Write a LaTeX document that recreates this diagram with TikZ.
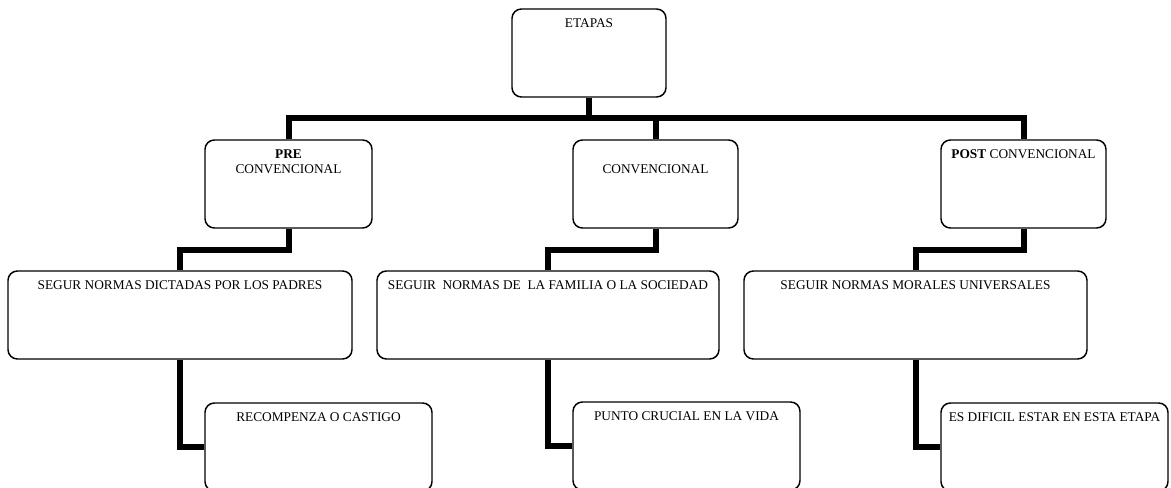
\documentclass[tikz,border=0pt]{standalone}
\usepackage{fontspec}
\setmainfont{Liberation Serif}
\usepackage{tikz}
\usetikzlibrary{positioning}
\newlength{\unidad}
\setlength{\unidad}{0.75pt}
\newcommand{\etiqueta}[3]{\parbox[b][#2\unidad][t]{#1\unidad}{\fontsize{10pt}{11.25pt}\selectfont\centering\vspace*{7pt}#3}}
\tikzset{
  caja/.style={rectangle,rounded corners=7pt,draw=black,line width=1.1pt,fill=white,inner sep=0pt},
  conector/.style={line width=4.5pt,draw=black,line join=miter}
}

\begin{document}
\begin{tikzpicture}[x=0.75pt,y=-0.75pt]
  \useasboundingbox (0,0) rectangle (1171,488);
  \coordinate (barra) at (0,118.5);

  \node[caja] (etapas) at (589,53) {\etiqueta{154}{88}{ETAPAS}};
  \node[caja] (pre) at (288.5,184) {\etiqueta{167}{88}{\textbf{PRE}\\CONVENCIONAL}};
  \node[caja] (conv) at (655.5,184) {\etiqueta{165}{88}{\vphantom{E}\\CONVENCIONAL}};
  \node[caja] (post) at (1023.5,184) {\etiqueta{165}{88}{\textbf{POST} CONVENCIONAL}};
  \node[caja] (padres) at (180,315) {\etiqueta{344}{88}{SEGUR NORMAS DICTADAS POR LOS PADRES}};
  \node[caja] (familia) at (548,315) {\etiqueta{342}{88}{SEGUIR\ \ NORMAS DE\ \ LA FAMILIA O LA SOCIEDAD}};
  \node[caja] (morales) at (915.5,315) {\etiqueta{343}{88}{SEGUIR NORMAS MORALES UNIVERSALES}};
  \node[caja] (castigo) at (318.5,447) {\etiqueta{227}{88}{RECOMPENZA O CASTIGO}};
  \node[caja] (vida) at (686.5,446) {\etiqueta{227}{88}{PUNTO CRUCIAL EN LA VIDA}};
  \node[caja] (dificil) at (1054.5,447) {\etiqueta{227}{88}{ES DIFICIL ESTAR EN ESTA ETAPA}};

  \draw[conector] (etapas.south) -- (etapas.south |- barra);
  \draw[conector] (pre.north) -- (pre.north |- barra) -- (post.north |- barra) -- (post.north);
  \draw[conector] (conv.north) -- (conv.north |- barra);
  \draw[conector] (pre.south) -- ++(0,21) -| (padres.north);
  \draw[conector] (conv.south) -- ++(0,21) -| (familia.north);
  \draw[conector] (post.south) -- ++(0,21) -| (morales.north);
  \draw[conector] (padres.south) |- (castigo.west);
  \draw[conector] (familia.south) |- (vida.west);
  \draw[conector] (morales.south) |- (dificil.west);
\end{tikzpicture}
\end{document}
